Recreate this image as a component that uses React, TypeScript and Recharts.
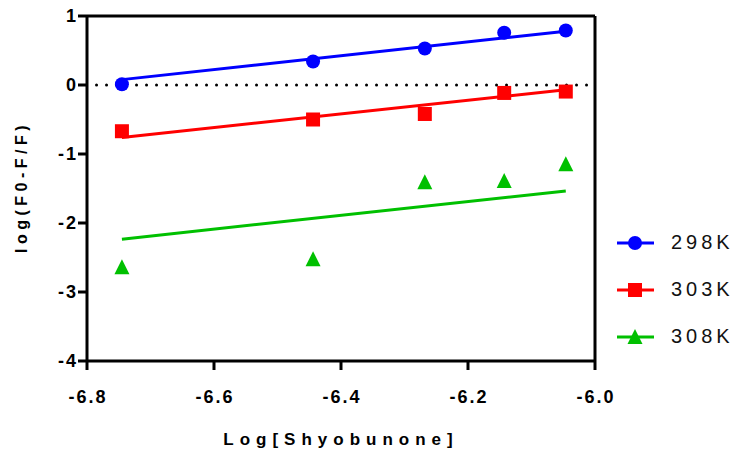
import React from "react";
import {
	ComposedChart,
	Line,
	Scatter,
	XAxis,
	YAxis,
	ReferenceLine,
} from "recharts";

const concLog = [-6.745, -6.444, -6.268, -6.143, -6.046];
const y298 = [0.01, 0.34, 0.53, 0.757, 0.79];
const y303 = [-0.67, -0.5, -0.42, -0.115, -0.095];
const y308 = [-2.64, -2.526, -1.41, -1.39, -1.15];

const fitX = [-6.745, -6.046];
const fit298 = [0.078, 0.78];
const fit303 = [-0.76, -0.07];
const fit308 = [-2.234, -1.536];

const xTicks = [-6.8, -6.6, -6.4, -6.2, -6.0];
const yTicks = [-4, -3, -2, -1, 0, 1];

const FONT = "'Liberation Sans', Arial, sans-serif";

const toPts = (xs: number[], ys: number[]) => xs.map((x, i) => ({ x, y: ys[i] }));

const series = [
	{ name: "298K", color: "#0000ff", shape: "circle", pts: toPts(concLog, y298), fit: toPts(fitX, fit298) },
	{ name: "303K", color: "#ff0000", shape: "square", pts: toPts(concLog, y303), fit: toPts(fitX, fit303) },
	{ name: "308K", color: "#00c000", shape: "triangle", pts: toPts(concLog, y308), fit: toPts(fitX, fit308) },
];

const Marker = ({ kind, cx, cy, color }: any) => {
	if (kind === "circle") return <circle cx={cx} cy={cy} r={7} fill={color} />;
	if (kind === "square") return <rect x={cx - 7} y={cy - 7} width={14} height={14} fill={color} />;
	return <polygon points={`${cx},${cy - 8} ${cx + 7.5},${cy + 7} ${cx - 7.5},${cy + 7}`} fill={color} />;
};

const XTick = (p: any) => (
	<text x={p.x + 1} y={p.y} dy="0.71em" textAnchor="middle" fill="#000" fontSize={18} fontWeight={700} fontFamily={FONT} letterSpacing={2}>
		{Number(p.payload.value).toFixed(1)}
	</text>
);

const YTick = (p: any) => (
	<text x={p.x + 2} y={p.y} dy="0.36em" textAnchor="end" fill="#000" fontSize={18} fontWeight={700} fontFamily={FONT} letterSpacing={2}>
		{p.payload.value}
	</text>
);

const LegendBox = () => (
	<div style={{ position: "absolute", left: 615, top: 219, width: 120, fontFamily: FONT }}>
		{series.map((s) => (
			<div key={s.name} style={{ display: "flex", alignItems: "center", height: 47 }}>
				<svg width={40} height={20}>
					<line x1={2} y1={10} x2={39} y2={10} stroke={s.color} strokeWidth={3} />
					<Marker kind={s.shape} cx={20} cy={10} color={s.color} />
				</svg>
				<span style={{ marginLeft: 16, fontSize: 20, letterSpacing: 4, color: "#111" }}>{s.name}</span>
			</div>
		))}
	</div>
);

export default function App() {
	return (
		<div style={{ position: "absolute", left: 0, top: 0, width: 735, height: 452, background: "#fff" }}>
			<ComposedChart width={735} height={452} margin={{ top: 16, right: 140, bottom: 31, left: 27 }}>
				<XAxis
					dataKey="x"
					type="number"
					domain={[-6.8, -6.0]}
					ticks={xTicks}
					allowDataOverflow
					height={60}
					axisLine={{ stroke: "#000", strokeWidth: 3 }}
					tickLine={{ stroke: "#000", strokeWidth: 3 }}
					tickSize={9}
					tickMargin={20}
					tick={<XTick />}
					label={() => (
						<text x={341} y={439} dy="0.36em" textAnchor="middle" fill="#000" fontSize={17} fontWeight={700} fontFamily={FONT} letterSpacing={6}>
							Log[Shyobunone]
						</text>
					)}
				/>
				<YAxis
					dataKey="y"
					type="number"
					domain={[-4, 1]}
					ticks={yTicks}
					allowDataOverflow
					width={60}
					axisLine={{ stroke: "#000", strokeWidth: 3 }}
					tickLine={{ stroke: "#000", strokeWidth: 3 }}
					tickSize={9}
					tickMargin={2}
					tick={<YTick />}
					label={() => (
						<text
							x={21}
							y={187}
							dy="0.36em"
							textAnchor="middle"
							transform="rotate(-90 21 187)"
							fill="#000"
							fontSize={16}
							fontWeight={700}
							fontFamily={FONT}
							letterSpacing={4.5}
						>
							log(F0-F/F)
						</text>
					)}
				/>
				<ReferenceLine y={1} stroke="#000" strokeWidth={3} />
				<ReferenceLine x={-6.0} stroke="#000" strokeWidth={3} />
				<ReferenceLine
					segment={[{ x: -6.785, y: 0 }, { x: -6.01, y: 0 }]}
					stroke="#000"
					strokeWidth={3}
					strokeLinecap="round"
					strokeDasharray="0 10"
				/>
				{series.map((s) => (
					<Line
						key={`fit-${s.name}`}
						data={s.fit}
						dataKey="y"
						stroke={s.color}
						strokeWidth={3}
						dot={false}
						activeDot={false}
						isAnimationActive={false}
						legendType="none"
					/>
				))}
				{series.map((s) => (
					<Scatter
						key={`pts-${s.name}`}
						data={s.pts}
						dataKey="y"
						isAnimationActive={false}
						shape={(p: any) => <Marker kind={s.shape} cx={p.cx} cy={p.cy} color={s.color} />}
					/>
				))}
			</ComposedChart>
			<LegendBox />
		</div>
	);
}
